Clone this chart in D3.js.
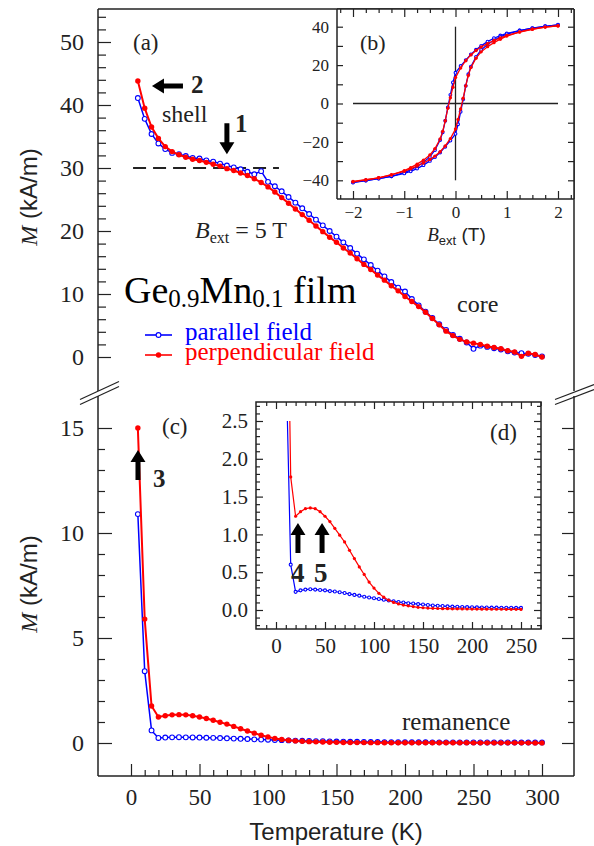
<!DOCTYPE html>
<html>
<head>
<meta charset="utf-8">
<script src="https://cdn.jsdelivr.net/npm/d3@7"></script>
<style>
  body { margin: 0; background: #fff; }
</style>
</head>
<body>
<svg width="594" height="846"></svg>
<script>
// temperature sweep (K), shared by panels (a), (c), (d)
var tempK = [5,10,15,20,25,30,35,40,45,50,55,60,65,70,75,80,85,90,95,100,
	105,110,115,120,125,130,135,140,145,150,155,160,165,170,175,180,185,190,195,200,
	205,210,215,220,225,230,235,240,245,250,255,260,265,270,275,280,285,290,295,300];
// (a) M at B = 5 T, kA/m
var mParallel = [41.1,37.8,35.4,33.9,33.0,32.4,32.2,31.9,31.6,31.5,31.2,31.0,30.7,30.4,30.1,29.8,29.4,29.0,29.5,27.8,
	27.1,26.3,25.4,24.5,23.6,22.7,21.8,20.9,20.0,19.1,18.2,17.3,16.4,15.5,14.6,13.7,12.8,11.9,11.0,10.4,
	9.2,8.2,7.2,6.2,5.2,4.3,3.5,2.9,2.3,1.3,1.8,1.6,1.4,1.2,0.9,0.7,0.6,0.5,0.3,0.1];
var mPerp = [43.8,39.5,36.5,34.7,33.4,32.6,32.1,31.7,31.4,31.2,30.9,30.6,30.3,29.9,29.6,29.2,28.8,28.3,27.7,27.0,
	26.2,25.3,24.4,23.5,22.6,21.7,20.8,19.9,19.0,18.2,17.3,16.5,15.6,14.7,13.9,13.0,12.2,11.3,10.5,9.6,
	8.8,8.0,7.1,6.1,5.1,4.1,3.4,2.8,2.4,2.2,2.0,1.7,1.5,1.3,1.0,0.8,0.1,0.6,0.4,0.0];
// (c)/(d) remanence, kA/m
var remParallel = [10.9,3.42,0.60,0.24,0.26,0.27,0.275,0.27,0.265,0.26,0.25,0.245,0.235,0.225,0.21,0.20,0.19,0.175,0.165,0.155,
	0.145,0.135,0.125,0.115,0.105,0.10,0.09,0.085,0.078,0.072,0.066,0.06,0.056,0.052,0.048,0.045,0.042,0.04,0.038,0.036,
	0.035,0.034,0.033,0.032,0.031,0.03,0.03,0.029,0.028,0.028,0.027,0.026,0.026,0.025,0.025,0.024,0.024,0.023,0.023,0.022];
var remPerp = [15.0,5.9,1.76,1.24,1.30,1.34,1.35,1.34,1.30,1.24,1.17,1.08,0.99,0.90,0.79,0.68,0.57,0.47,0.37,0.29,
	0.22,0.17,0.13,0.10,0.08,0.065,0.055,0.045,0.035,0.03,0.025,0.022,0.02,0.018,0.017,0.016,0.015,0.014,0.013,0.012,
	0.012,0.011,0.011,0.01,0.01,0.01,0.009,0.009,0.009,0.008,0.008,0.008,0.007,0.007,0.007,0.006,0.006,0.006,0.005,0.005];
// (b) hysteresis loops, B in T
var fieldDown = [2,1.75,1.5,1.25,1,0.875,0.75,0.625,0.5,0.4,0.3,0.2,0.1,0,-0.05,-0.1,-0.15,-0.2,-0.25,-0.3,-0.4,-0.5,-0.625,-0.75,-0.875,-1,-1.25,-1.5,-1.75,-2];
var fieldUp = [-2,-1.75,-1.5,-1.25,-1,-0.875,-0.75,-0.625,-0.5,-0.4,-0.3,-0.2,-0.1,0,0.05,0.1,0.15,0.2,0.25,0.3,0.4,0.5,0.625,0.75,0.875,1,1.25,1.5,1.75,2];
var hystPerpDown = [40.5,39.8,38.6,37.2,35.4,34.2,32.8,31.2,29.4,27.6,25.3,22.3,18.5,13.5,8.5,3.0,-2.5,-9.0,-14.5,-18.5,-23.5,-26.8,-29.5,-31.6,-33.4,-35.0,-37.2,-38.7,-39.8,-40.8];
var hystPerpUp = [-40.6,-39.7,-38.7,-37.1,-35.3,-34.0,-32.6,-31.0,-29.2,-27.4,-25.1,-22.1,-18.3,-13.3,-8.3,-2.8,2.7,9.2,14.6,18.7,23.6,26.9,29.6,31.7,33.5,35.1,37.3,38.8,39.8,40.4];
var hystParDown = [41.0,40.2,39.2,38.0,36.5,35.4,34.0,32.2,30.0,28.0,25.6,22.6,19.5,16.0,11.0,4.5,-2.0,-9.0,-15.0,-19.0,-24.2,-27.8,-30.6,-32.8,-34.6,-36.0,-37.9,-39.1,-40.1,-41.0];
var hystParUp = [-41.2,-40.1,-39.1,-37.9,-36.4,-35.3,-33.9,-32.1,-29.9,-27.9,-25.5,-22.5,-19.3,-15.8,-10.8,-4.3,2.2,9.2,15.2,19.2,24.3,27.9,30.7,32.9,34.7,36.1,38.0,39.2,40.2,40.9];

var ink = "#222", blue = "#0000ff", red = "#ff0000";
var serif = '"Liberation Serif","Times New Roman",serif', sans = '"Liberation Sans",Arial,sans-serif';
var svg = d3.select("svg");

// frame edges
var L = 98, R = 574, tp = 9, aBot = 391, cTop = 396, cBot = 776;
var bL = 337, bB = 199;
var dL = 256, dR = 541, dT = 402, dB = 629;

var x = d3.scaleLinear().domain([0, 300]).range([131, 542]);
var yA = d3.scaleLinear().domain([0, 50]).range([357, 42]);
var yC = d3.scaleLinear().domain([0, 15]).range([743, 428]);
var xB = d3.scaleLinear().domain([-2, 2]).range([353, 558]);
var yB = d3.scaleLinear().domain([-40, 40]).range([180.3, 26.7]);
var xD = d3.scaleLinear().domain([0, 250]).range([276, 521]);
var yD = d3.scaleLinear().domain([0, 2.5]).range([610, 421]);

function line(x1, y1, x2, y2, w, dash) {
	return svg.append("line").attr("x1", x1).attr("y1", y1).attr("x2", x2).attr("y2", y2)
		.attr("stroke", ink).attr("stroke-width", w || 1.5).attr("stroke-dasharray", dash || null);
}

function ticks(axis, scale, vals, size, tx, ty) {
	svg.append("g").attr("transform", "translate(" + tx + "," + ty + ")")
		.call(axis(scale).tickValues(vals).tickSize(size).tickFormat(""))
		.call(g => { g.select(".domain").remove(); g.selectAll("line").attr("stroke", ink).attr("stroke-width", 1.2); });
}

function labels(axis, scale, vals, pad, tx, ty, size, fmt) {
	svg.append("g").attr("transform", "translate(" + tx + "," + ty + ")")
		.call(axis(scale).tickValues(vals).tickSize(0).tickPadding(pad).tickFormat(fmt))
		.call(g => { g.select(".domain").remove();
			g.selectAll("text").attr("font-family", serif).attr("font-size", size).attr("fill", ink); });
}

function series(g, xs, ys, xs_, ys_, color, open, r, lw) {
	var pts = xs.map((v, i) => [xs_(v), ys_(ys[i])]);
	g.append("path").attr("d", d3.line()(pts)).attr("fill", "none")
		.attr("stroke", color).attr("stroke-width", lw);
	g.selectAll(null).data(pts).join("circle")
		.attr("cx", d => d[0]).attr("cy", d => d[1]).attr("r", r)
		.attr("fill", open ? "#fff" : color)
		.attr("stroke", color).attr("stroke-width", open ? 1.1 : 0);
}

function text(px, py, str, size, opt) {
	opt = opt || {};
	return svg.append("text").attr("x", px).attr("y", py).text(str)
		.attr("font-family", opt.font || serif).attr("font-size", size)
		.attr("font-weight", opt.bold ? "bold" : null)
		.attr("text-anchor", opt.anchor || "start")
		.attr("fill", opt.fill || ink);
}

function arrow(px, py, angle, len) {
	var p = "M0,0L-7.5,12L-2.5,12L-2.5," + len + "L2.5," + len + "L2.5,12L7.5,12Z";
	svg.append("path").attr("d", p).attr("fill", "#000")
		.attr("transform", "translate(" + px + "," + py + ") rotate(" + angle + ")");
}

var defs = svg.append("defs");
defs.append("clipPath").attr("id", "clipA").append("rect").attr("x", L).attr("y", tp).attr("width", R - L).attr("height", aBot - tp);
defs.append("clipPath").attr("id", "clipC").append("rect").attr("x", L).attr("y", cTop).attr("width", R - L).attr("height", cBot - cTop);
defs.append("clipPath").attr("id", "clipD").append("rect").attr("x", dL).attr("y", yD(2.5)).attr("width", dR - dL).attr("height", dB - yD(2.5));

// ---------- panel (a) ----------
line(x(1.5), yA(30), x(108), yA(30), 1.8, "13,7");
var gA = svg.append("g").attr("clip-path", "url(#clipA)");
series(gA, tempK, mParallel, x, yA, blue, true, 2.4, 1.5);
series(gA, tempK, mPerp, x, yA, red, false, 2.7, 2);

line(L, tp, R, tp);
line(L, tp, L, aBot);
line(R, tp, R, aBot);
ticks(d3.axisRight, yA, d3.range(0, 55, 10), 13, L, 0);
ticks(d3.axisRight, yA, d3.range(0, 55, 2).filter(v => v % 10), 8, L, 0);
labels(d3.axisLeft, yA, d3.range(0, 55, 10), 14, L, 0, 24, d3.format("d"));

text(133, 50, "(a)", 23);
arrow(x(15.3), yA(43.0), -90, 31);
text(191, 93, "2", 25, {bold: true});
text(162, 122, "shell", 24);
arrow(x(70), yA(32.2), 180, 31);
text(235, 132, "1", 25, {bold: true});
var bt = text(195, 238, "", 24);
bt.append("tspan").attr("font-style", "italic").text("B");
bt.append("tspan").attr("font-size", 16).attr("dy", 5).text("ext");
bt.append("tspan").attr("dy", -5).text(" = 5 T");
var gt = text(124, 303, "", 38, {fill: "#000"});
gt.append("tspan").text("Ge");
gt.append("tspan").attr("font-size", 25).attr("dy", 4).text("0.9");
gt.append("tspan").attr("dy", -4).text("Mn");
gt.append("tspan").attr("font-size", 25).attr("dy", 4).text("0.1");
gt.append("tspan").attr("dy", -4).text(" film");
text(457, 312, "core", 24);

// legend
[[blue, true, 335, "parallel field"], [red, false, 355, "perpendicular field"]].forEach(function(d) {
	svg.append("line").attr("x1", 145).attr("x2", 172).attr("y1", d[2]).attr("y2", d[2])
		.attr("stroke", d[0]).attr("stroke-width", 1.6);
	svg.append("circle").attr("cx", 158.5).attr("cy", d[2]).attr("r", d[1] ? 2.4 : 2.7)
		.attr("fill", d[1] ? "#fff" : d[0]).attr("stroke", d[0]).attr("stroke-width", d[1] ? 1.1 : 0);
	text(185, d[2] + 4.5, d[3], 25, {fill: d[0]});
});

// ---------- inset (b) ----------
svg.append("rect").attr("x", bL).attr("y", tp).attr("width", R - bL).attr("height", bB - tp).attr("fill", "#fff");
line(xB(0), yB(40), xB(0), yB(-40), 1.3);
line(xB(-2), yB(0), xB(2), yB(0), 1.3);
var gB = svg.append("g");
series(gB, fieldDown, hystParDown, xB, yB, blue, true, 1.4, 1.3);
series(gB, fieldUp, hystParUp, xB, yB, blue, true, 1.4, 1.3);
series(gB, fieldDown, hystPerpDown, xB, yB, red, false, 1.7, 1.3);
series(gB, fieldUp, hystPerpUp, xB, yB, red, false, 1.7, 1.3);
line(bL, tp, bL, bB);
line(bL, bB, R, bB);
line(bL, tp, R, tp);
line(R, tp, R, bB);
var bYt = d3.range(-40, 41, 10);
ticks(d3.axisRight, yB, bYt, 6, bL, 0);
ticks(d3.axisLeft, yB, bYt, 6, R, 0);
ticks(d3.axisTop, xB, d3.range(-2, 2.1, 1), 8, 0, bB);
ticks(d3.axisTop, xB, d3.range(-2.25, 2.3, 0.25).filter(v => v % 1), 4, 0, bB);
ticks(d3.axisBottom, xB, d3.range(-2, 2.1, 1), 8, 0, tp);
ticks(d3.axisBottom, xB, d3.range(-2.25, 2.3, 0.25).filter(v => v % 1), 4, 0, tp);
labels(d3.axisLeft, yB, d3.range(-40, 41, 20), 8, bL, 0, 17, d3.format("d"));
labels(d3.axisBottom, xB, d3.range(-2, 2.1, 1), 7, 0, bB, 17, d3.format("d"));
text(360, 50, "(b)", 22);
var bx = text(xB(0) + 1, 241, "", 19, {anchor: "middle"});
bx.append("tspan").attr("font-style", "italic").text("B");
bx.append("tspan").attr("font-family", sans).attr("font-size", 13).attr("dy", 4).text("ext");
bx.append("tspan").attr("font-family", sans).attr("dy", -4).text(" (T)");

// ---------- panel (c) ----------
var gC = svg.append("g").attr("clip-path", "url(#clipC)");
series(gC, tempK, remParallel, x, yC, blue, true, 2.4, 1.5);
series(gC, tempK, remPerp, x, yC, red, false, 2.7, 2);

line(L, cTop, L, cBot);
line(L, cBot, R, cBot);
line(R, cTop, R, cBot);
ticks(d3.axisRight, yC, [0, 5, 10, 15], 14, L, 0);
ticks(d3.axisRight, yC, d3.range(0, 16).filter(v => v % 5), 7, L, 0);
ticks(d3.axisLeft, yC, [0, 5, 10, 15], 12, R, 0);
ticks(d3.axisLeft, yC, d3.range(0, 16).filter(v => v % 5), 6, R, 0);
ticks(d3.axisTop, x, d3.range(0, 301, 50), 12, 0, cBot);
ticks(d3.axisTop, x, d3.range(0, 301, 10).filter(v => v % 50), 6, 0, cBot);
labels(d3.axisLeft, yC, [0, 5, 10, 15], 14, L, 0, 24, d3.format("d"));
labels(d3.axisBottom, x, d3.range(0, 301, 50), 13, 0, cBot, 23, d3.format("d"));

text(162, 434, "(c)", 23);
arrow(x(5.1), yC(13.95), 0, 30);
text(153, 487, "3", 25, {bold: true});
text(402, 730, "remanence", 25);

// ---------- inset (d) ----------
svg.append("rect").attr("x", dL).attr("y", dT).attr("width", dR - dL).attr("height", dB - dT)
	.attr("fill", "#fff").attr("stroke", ink).attr("stroke-width", 1.5);
var n250 = tempK.indexOf(250) + 1;
var gD = svg.append("g").attr("clip-path", "url(#clipD)");
series(gD, tempK.slice(0, n250), remParallel.slice(0, n250), xD, yD, blue, true, 1.5, 1.2);
series(gD, tempK.slice(0, n250), remPerp.slice(0, n250), xD, yD, red, false, 1.6, 1.2);
var dYmaj = d3.range(0, 2.6, 0.5), dYmin = d3.range(-2, 28).filter(v => v % 5).map(v => v / 10);
ticks(d3.axisRight, yD, dYmaj, 7, dL, 0);
ticks(d3.axisRight, yD, dYmin, 4, dL, 0);
ticks(d3.axisLeft, yD, dYmaj, 7, dR, 0);
ticks(d3.axisLeft, yD, dYmin, 4, dR, 0);
var dXmaj = d3.range(0, 251, 50), dXmin = d3.range(-10, 271, 10).filter(v => v % 50);
ticks(d3.axisTop, xD, dXmaj, 7, 0, dB);
ticks(d3.axisTop, xD, dXmin, 4, 0, dB);
ticks(d3.axisBottom, xD, dXmaj, 7, 0, dT);
ticks(d3.axisBottom, xD, dXmin, 4, 0, dT);
labels(d3.axisLeft, yD, dYmaj, 8, dL, 0, 21, d3.format(".1f"));
labels(d3.axisBottom, xD, dXmaj, 9, 0, dB, 21, d3.format("d"));
text(490, 440, "(d)", 23);
arrow(xD(22.4), yD(1.15), 0, 30);
arrow(xD(47), yD(1.15), 0, 30);
text(291, 582, "4", 27, {bold: true});
text(314, 582, "5", 27, {bold: true});

// ---------- axis breaks ----------
[[80, 399.5, 119, 381.5], [80, 404.5, 119, 386.5], [555, 399.5, 594, 384.5], [555, 404.5, 594, 389.5]]
	.forEach(d => line(d[0], d[1], d[2], d[3], 1.2));

// ---------- axis titles ----------
[197, 584].forEach(function(cy) {
	var t = svg.append("text").attr("transform", "translate(37," + cy + ") rotate(-90)")
		.attr("text-anchor", "middle").attr("font-family", sans).attr("font-size", 24).attr("fill", ink);
	t.append("tspan").attr("font-family", serif).attr("font-style", "italic").text("M");
	t.append("tspan").text(" (kA/m)");
});
text((L + R) / 2, 840, "Temperature (K)", 24, {font: sans, anchor: "middle"});
</script>
</body>
</html>
